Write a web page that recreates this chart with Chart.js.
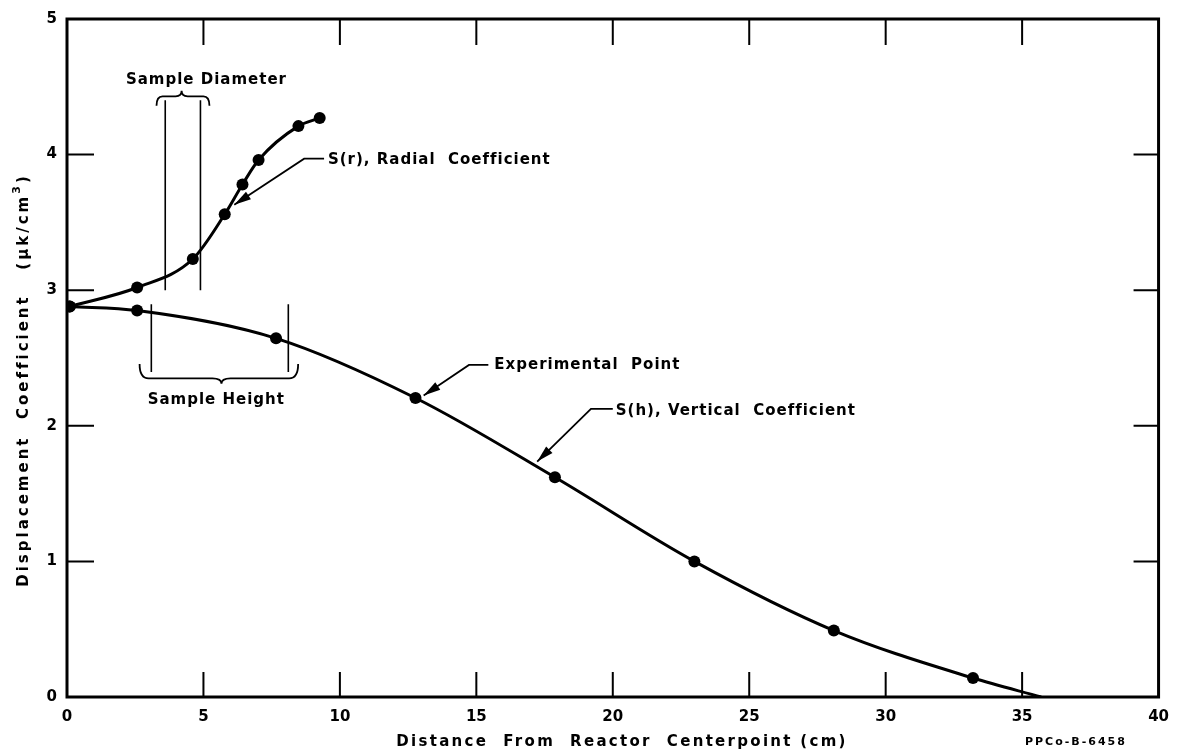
<!DOCTYPE html>
<html>
<head>
<meta charset="utf-8">
<script src="https://cdn.jsdelivr.net/npm/chart.js@4.4.1/dist/chart.umd.min.js"></script>
<style>
  html, body { margin: 0; background: #fff; }
  #wrap { width: 1180px; height: 755px; }
</style>
</head>
<body>
<div id="wrap"><canvas id="chart"></canvas></div>
<script>
// S(r) radial coefficient, experimental points
const radialX = [0.1, 2.57, 4.61, 5.78, 6.43, 7.02, 8.48, 9.26];
const radialY = [2.88, 3.02, 3.23, 3.56, 3.78, 3.96, 4.21, 4.27];
// S(h) vertical coefficient, experimental points
const verticalX = [0.1, 2.57, 7.66, 12.77, 17.88, 22.99, 28.1, 33.2];
const verticalY = [2.88, 2.85, 2.645, 2.205, 1.62, 1.0, 0.49, 0.14];
// the drawn S(h) curve runs on to the axis here (no point)
const verticalEndX = 35.7;
const verticalEndY = 0;

const xTicks = [0, 5, 10, 15, 20, 25, 30, 35, 40];
const yTicks = [0, 1, 2, 3, 4, 5];

const FONT = 'DejaVu Sans';

const radialPts = radialX.map((x, i) => ({ x: x, y: radialY[i] }));
const verticalPts = verticalX.map((x, i) => ({ x: x, y: verticalY[i] }));
verticalPts.push({ x: verticalEndX, y: verticalEndY });

// frame, inward ticks, braces, leaders and titles
const paper = {
  id: 'paper',
  afterDraw(chart) {
    const ctx = chart.ctx;
    const a = chart.chartArea;
    const xs = chart.scales.x, ys = chart.scales.y;
    const px = v => xs.getPixelForValue(v);
    const py = v => ys.getPixelForValue(v);

    ctx.save();
    ctx.strokeStyle = '#000';
    ctx.fillStyle = '#000';
    ctx.lineCap = 'butt';

    // inward tick marks on all four sides
    ctx.lineWidth = 2;
    ctx.beginPath();
    xTicks.slice(1, -1).forEach(t => {
      const x = px(t);
      ctx.moveTo(x, a.bottom); ctx.lineTo(x, a.bottom - 25);
      ctx.moveTo(x, a.top); ctx.lineTo(x, a.top + 26);
    });
    yTicks.slice(1, -1).forEach(t => {
      const y = py(t);
      ctx.moveTo(a.left, y); ctx.lineTo(a.left + 27, y);
      ctx.moveTo(a.right, y); ctx.lineTo(a.right - 25, y);
    });
    ctx.stroke();

    ctx.lineWidth = 3;
    ctx.strokeRect(a.left, a.top, a.right - a.left, a.bottom - a.top);

    // sample size markers
    ctx.lineWidth = 1.6;
    ctx.beginPath();
    [3.6, 4.89].forEach(v => { ctx.moveTo(px(v), py(4.40)); ctx.lineTo(px(v), py(3.0)); });
    [3.09, 8.11].forEach(v => { ctx.moveTo(px(v), py(2.896)); ctx.lineTo(px(v), py(2.396)); });
    ctx.stroke();

    function brace(xa, xb, xm, yEnd, yBar, yTip, r) {
      ctx.beginPath();
      ctx.moveTo(xa, yEnd);
      ctx.quadraticCurveTo(xa, yBar, xa + r, yBar);
      ctx.lineTo(xm - r, yBar);
      ctx.quadraticCurveTo(xm, yBar, xm, yTip);
      ctx.quadraticCurveTo(xm, yBar, xm + r, yBar);
      ctx.lineTo(xb - r, yBar);
      ctx.quadraticCurveTo(xb, yBar, xb, yEnd);
      ctx.stroke();
    }
    ctx.lineWidth = 1.8;
    brace(px(3.28), px(5.22), px(4.2), py(4.36), py(4.43), py(4.47), 6);
    brace(px(2.66), px(8.47), px(5.66), py(2.456), py(2.35), py(2.31), 9);

    // leader lines with arrow heads
    function leader(hx1, hx2, hy, tx, ty) {
      const x0 = px(hx1), x1 = px(hx2), y0 = py(hy);
      const xt = px(tx), yt = py(ty);
      ctx.lineWidth = 1.8;
      ctx.beginPath();
      ctx.moveTo(x1, y0); ctx.lineTo(x0, y0); ctx.lineTo(xt, yt);
      ctx.stroke();
      const ang = Math.atan2(yt - y0, xt - x0);
      const len = 17, w = 4.5;
      const bx = xt - len * Math.cos(ang), by = yt - len * Math.sin(ang);
      ctx.beginPath();
      ctx.moveTo(xt, yt);
      ctx.lineTo(bx + w * Math.sin(ang), by - w * Math.cos(ang));
      ctx.lineTo(bx - w * Math.sin(ang), by + w * Math.cos(ang));
      ctx.closePath();
      ctx.fill();
    }
    leader(8.69, 9.42, 3.97, 6.13, 3.63);
    leader(14.73, 15.44, 2.449, 13.07, 2.224);
    leader(19.2, 20.0, 2.125, 17.23, 1.736);

    // labels
    ctx.font = 'bold 15px ' + FONT;
    ctx.letterSpacing = '1px';
    ctx.textBaseline = 'middle';
    ctx.textAlign = 'center';
    ctx.fillText('Sample Diameter', px(5.11), py(4.55));
    ctx.fillText('Sample Height', px(5.47), py(2.19));
    ctx.textAlign = 'left';
    ctx.fillText('S(r), Radial  Coefficient', px(9.56), py(3.956));
    ctx.fillText('Experimental  Point', px(15.66), py(2.447));
    ctx.fillText('S(h), Vertical  Coefficient', px(20.11), py(2.11));

    // axis titles
    ctx.letterSpacing = '2.3px';
    ctx.textAlign = 'center';
    ctx.fillText('Distance  From  Reactor  Centerpoint (cm)', 622, 742);

    // rotated y title with a raised 3
    ctx.letterSpacing = '3px';
    const main = 'Displacement  Coefficient   (\u03BCk/cm';
    const wMain = ctx.measureText(main).width;
    const wClose = ctx.measureText(')').width;
    ctx.font = 'bold 11px ' + FONT;
    const wSup = ctx.measureText('3').width;
    const total = wMain + wSup + wClose;
    ctx.save();
    ctx.translate(24, 380);
    ctx.rotate(-Math.PI / 2);
    ctx.textAlign = 'left';
    let x = -total / 2;
    ctx.font = 'bold 15px ' + FONT;
    ctx.fillText(main, x, 0);
    x += wMain;
    ctx.font = 'bold 11px ' + FONT;
    ctx.fillText('3', x, -7);
    x += wSup;
    ctx.font = 'bold 15px ' + FONT;
    ctx.fillText(')', x, 0);
    ctx.restore();

    ctx.font = 'bold 11px ' + FONT;
    ctx.letterSpacing = '2px';
    ctx.textAlign = 'left';
    ctx.fillText('PPCo-B-6458', 1025, 742);
    ctx.restore();
  }
};

new Chart(document.getElementById('chart'), {
  type: 'scatter',
  data: {
    datasets: [{
      label: 'S(r), Radial Coefficient',
      data: radialPts,
      showLine: true,
      borderColor: '#000',
      backgroundColor: '#000',
      borderWidth: 3,
      pointRadius: 6,
      pointBorderWidth: 0,
      cubicInterpolationMode: 'monotone'
    }, {
      label: 'S(h), Vertical Coefficient',
      data: verticalPts,
      showLine: true,
      borderColor: '#000',
      backgroundColor: '#000',
      borderWidth: 3,
      pointRadius: verticalPts.map((p, i) => i < verticalX.length ? 6 : 0),
      pointBorderWidth: 0,
      cubicInterpolationMode: 'monotone'
    }]
  },
  options: {
    responsive: true,
    maintainAspectRatio: false,
    animation: false,
    layout: { padding: { top: 14, right: 17, left: 0, bottom: 0 } },
    plugins: {
      legend: { display: false },
      tooltip: { enabled: false }
    },
    scales: {
      x: {
        type: 'linear',
        min: 0,
        max: 40,
        afterBuildTicks: s => { s.ticks = xTicks.map(v => ({ value: v })); },
        afterFit: s => { s.height = 58; },
        grid: { display: false, drawTicks: false },
        border: { display: false },
        ticks: {
          color: '#000',
          padding: 11,
          maxRotation: 0,
          font: { family: FONT, size: 15, weight: 'bold' }
        }
      },
      y: {
        type: 'linear',
        min: 0,
        max: 5,
        afterBuildTicks: s => { s.ticks = yTicks.map(v => ({ value: v })); },
        afterFit: s => { s.width = 67; },
        grid: { display: false, drawTicks: false },
        border: { display: false },
        ticks: {
          color: '#000',
          padding: 10,
          font: { family: FONT, size: 15, weight: 'bold' }
        }
      }
    }
  },
  plugins: [paper]
});
</script>
</body>
</html>
